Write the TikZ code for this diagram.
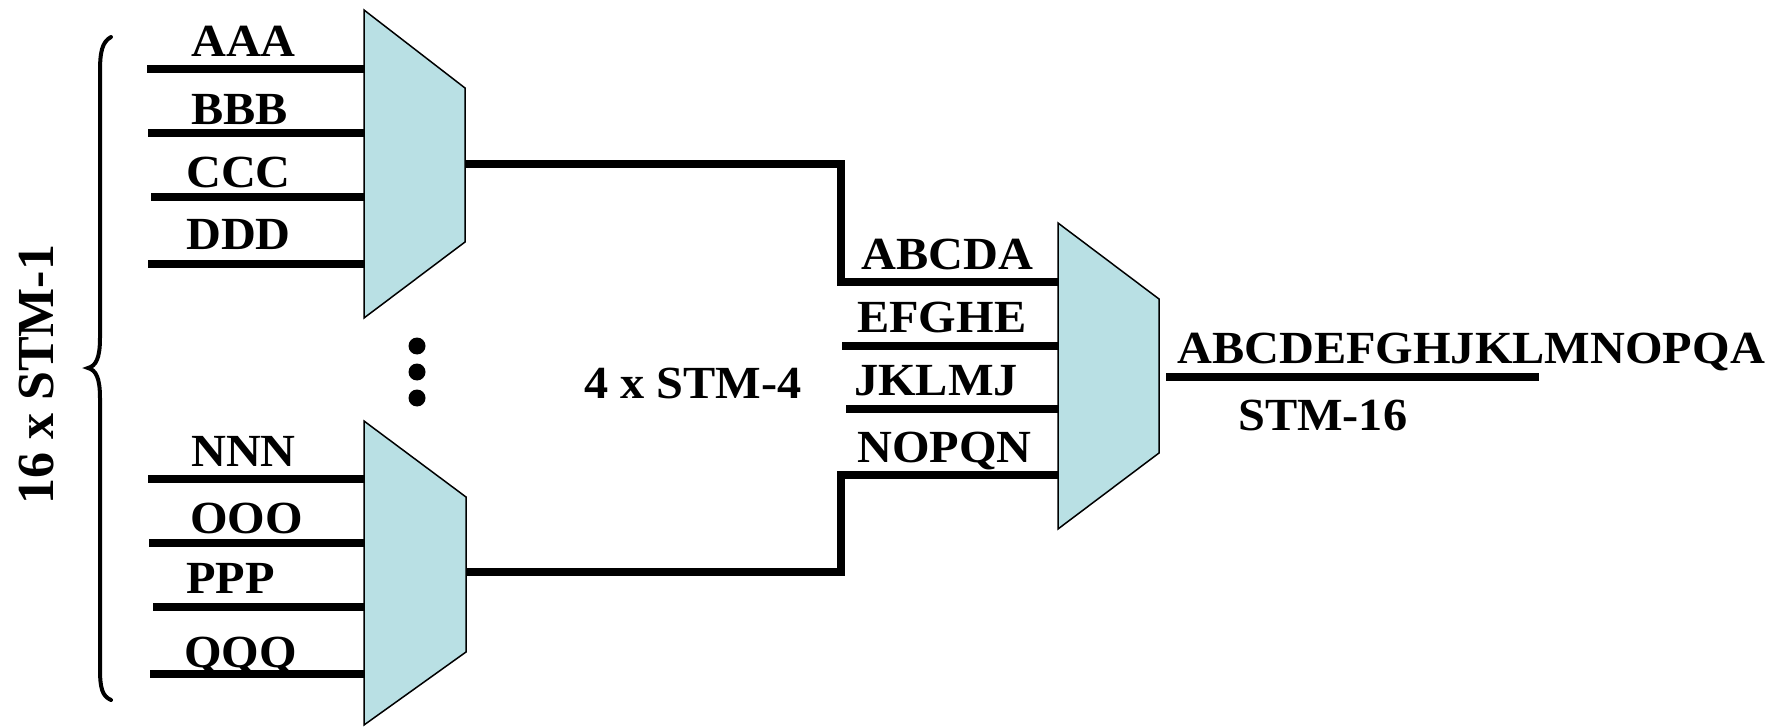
\documentclass[tikz,border=0pt]{standalone}
\usepackage{fontspec}
\setmainfont{Liberation Serif}
\definecolor{muxfill}{RGB}{185,224,228}
\tikzset{
  muxbox/.style={draw=black, line width=1.5pt, fill=muxfill, line join=miter},
  wire/.style={line width=7.5pt, line join=miter},
  lbl/.style={anchor=base west, inner sep=0pt, xscale=1.05, font=\fontsize{46}{50}\selectfont\bfseries},
  vlbl/.style={anchor=base west, inner sep=0pt, rotate=90, font=\fontsize{52}{56}\selectfont\bfseries},
  dotmark/.style={circle, fill=black, inner sep=0pt, minimum size=17pt}
}
\begin{document}
\begin{tikzpicture}[x=1pt,y=-1pt]
\useasboundingbox (0,0) rectangle (1775,727);
% mux 1
\coordinate (m1tl) at (364,10);
\coordinate (m1tr) at (465,88);
\coordinate (m1br) at (465,242);
\coordinate (m1bl) at (364,318);
\coordinate (m1out) at (465,164);
% mux 2
\coordinate (m2tl) at (364,421);
\coordinate (m2tr) at (466,497);
\coordinate (m2br) at (466,652);
\coordinate (m2bl) at (364,725);
\coordinate (m2out) at (466,572);
% mux 3
\coordinate (m3tl) at (1058,223);
\coordinate (m3tr) at (1159,299);
\coordinate (m3br) at (1159,453);
\coordinate (m3bl) at (1058,529);
\coordinate (m3out) at (1166,377);
% input wire starts
\coordinate (ia) at (147,69);
\coordinate (ib) at (148,133);
\coordinate (ic) at (151,197);
\coordinate (id) at (148,264);
\coordinate (in) at (148,479);
\coordinate (io) at (149,543);
\coordinate (ip) at (153,607);
\coordinate (iq) at (150,674);
\coordinate (je) at (842,346);
\coordinate (jj) at (846,409);
\coordinate (outend) at (1539,377);
\coordinate (bendtop) at (841,164);
\coordinate (bendtopb) at (841,282);
\coordinate (bendbot) at (841,572);
\coordinate (bendbotb) at (841,475);

% wires
\foreach \c in {ia,ib,ic,id} \draw[wire] (\c) -- (\c -| m1tl);
\foreach \c in {in,io,ip,iq} \draw[wire] (\c) -- (\c -| m2tl);
\draw[wire] (m1out) -- (bendtop) -- (bendtopb) -- (bendtopb -| m3tl);
\draw[wire] (m2out) -- (bendbot) -- (bendbotb) -- (bendbotb -| m3tl);
\draw[wire] (je) -- (je -| m3tl);
\draw[wire] (jj) -- (jj -| m3tl);
\draw[wire] (m3out) -- (outend);

% muxes
\draw[muxbox] (m1tl) -- (m1tr) -- (m1br) -- (m1bl) -- cycle;
\draw[muxbox] (m2tl) -- (m2tr) -- (m2br) -- (m2bl) -- cycle;
\draw[muxbox] (m3tl) -- (m3tr) -- (m3br) -- (m3bl) -- cycle;

% labels
\node[lbl] (la) at (191,57) {AAA};
\node[lbl] (lb) at (191,125) {BBB};
\node[lbl] (lc) at (186,188) {CCC};
\node[lbl] (ld) at (186,250) {DDD};
\node[lbl] (ln) at (191,466) {NNN};
\node[lbl] (lo) at (190,533) {OOO};
\node[lbl] (lp) at (186,593) {PPP};
\node[lbl] (lq) at (184,667) {QQQ};
\node[lbl] (l1) at (861,270) {ABCDA};
\node[lbl] (l2) at (857,332) {EFGHE};
\node[lbl] (l3) at (854,395) {JKLMJ};
\node[lbl] (l4) at (857,462) {NOPQN};
\node[lbl] (lbig) at (1177,363) {ABCDEFGHJKLMNOPQA};
\node[lbl] (l16) at (1238,430) {STM-16};
\node[lbl] (l4x) at (584,398) {4 x STM-4};
\node[vlbl] (lstm1) at (53,505) {16 x STM-1};

% dots
\node[dotmark] (d1) at (417,346) {};
\node[dotmark] (d2) at (417,372) {};
\node[dotmark] (d3) at (417,398) {};

% brace
\draw[line width=4pt, line cap=round] (111,37) .. controls (102,42) and (100,52) .. (100,72) -- (100,338) .. controls (100,358) and (96,366) .. (88,368) .. controls (96,370) and (100,378) .. (100,398) -- (100,668) .. controls (100,688) and (102,696) .. (111,700);
\end{tikzpicture}
\end{document}
